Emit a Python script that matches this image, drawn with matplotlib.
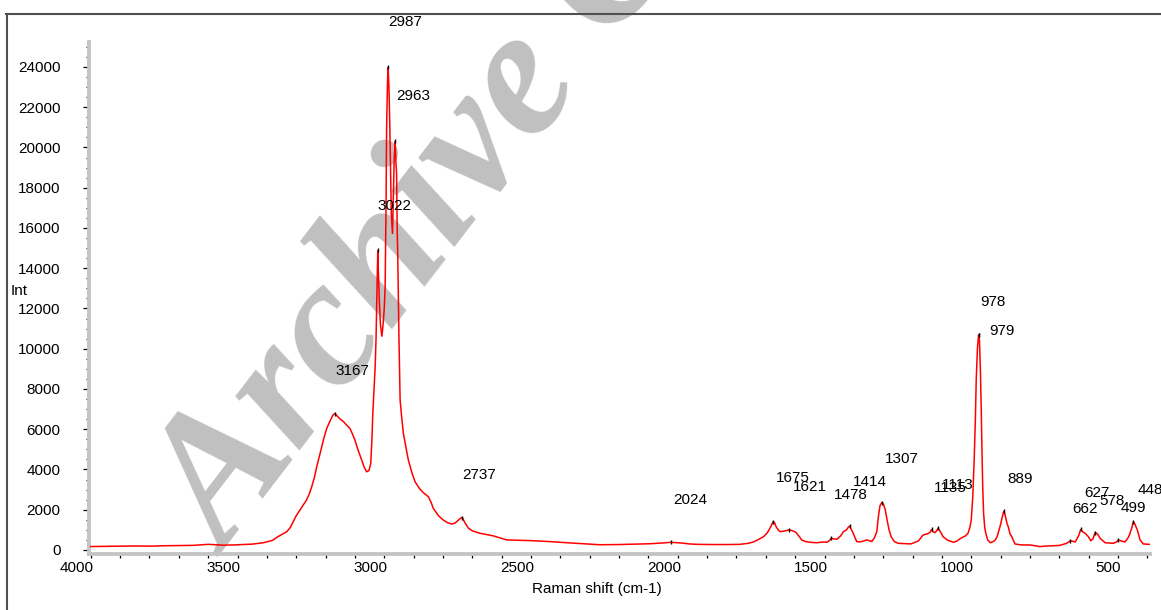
import numpy as np
import matplotlib
matplotlib.use('Agg')
import matplotlib.pyplot as plt
from matplotlib.ticker import MultipleLocator
from matplotlib.transforms import blended_transform_factory, ScaledTranslation
from matplotlib.lines import Line2D

plt.rcParams['font.family'] = ['Liberation Sans', 'DejaVu Sans']

# ---------------- data ----------------
wavenumber = [
    4000, 3950, 3900, 3850, 3800, 3750, 3700, 3650, 3600, 3550, 3515, 3450, 3412, 3380,
    3366, 3350, 3332, 3320, 3310, 3300, 3287, 3275, 3265, 3255, 3247, 3238, 3230, 3222,
    3213, 3205, 3196, 3185, 3175, 3168, 3160, 3150, 3139, 3128, 3117, 3108, 3100, 3090,
    3077, 3068, 3060, 3052, 3046, 3042, 3039, 3035, 3031, 3028, 3026, 3024, 3022, 3020,
    3017, 3013, 3008, 3004, 3000, 2997, 2994, 2992, 2989, 2987, 2984, 2981, 2979, 2976,
    2972, 2969, 2966, 2963, 2960, 2958, 2956, 2954, 2952, 2950, 2948, 2946, 2940, 2935,
    2926, 2918, 2905, 2895, 2880, 2867, 2850, 2840, 2833, 2815, 2799, 2785, 2770, 2760,
    2753, 2740, 2734, 2725, 2713, 2700, 2674, 2650, 2628, 2605, 2583, 2540, 2493, 2440,
    2378, 2320, 2265, 2200, 2150, 2094, 2050, 2024, 1990, 1960, 1935, 1880, 1830, 1788,
    1760, 1742, 1725, 1708, 1695, 1686, 1680, 1675, 1670, 1665, 1658, 1651, 1640, 1630,
    1621, 1610, 1600, 1595, 1585, 1578, 1565, 1549, 1526, 1503, 1492, 1482, 1478, 1470,
    1458, 1445, 1436, 1425, 1418, 1414, 1408, 1402, 1396, 1390, 1380, 1368, 1356, 1345,
    1339, 1330, 1322, 1316, 1311, 1305, 1300, 1293, 1287, 1280, 1273, 1262, 1249, 1206,
    1180, 1164, 1150, 1140, 1135, 1130, 1124, 1118, 1113, 1105, 1096, 1080, 1060, 1048,
    1036, 1020, 1011, 1004, 1000, 995, 990, 986, 983, 979, 975, 972, 969, 966, 964, 961,
    958, 954, 950, 944, 935, 925, 918, 912, 902, 895, 889, 884, 878, 874, 868, 862, 851,
    830, 800, 766, 740, 720, 698, 675, 662, 652, 646, 640, 633, 627, 620, 612, 601, 593,
    585, 582, 578, 570, 561, 544, 516, 505, 499, 490, 476, 466, 461, 453, 448, 443, 440,
    434, 425, 414, 393,
]
intensity = [
    170, 180, 190, 200, 190, 210, 220, 230, 280, 240, 250, 290, 360, 480,
    630, 760, 910, 1120, 1410, 1700, 1990, 2250, 2480, 2800, 3150, 3600, 4140, 4600,
    5130, 5600, 6040, 6400, 6700, 6780, 6650, 6500, 6380, 6200, 6040, 5750, 5460, 5000,
    4470, 4100, 3890, 3950, 4300, 5500, 6790, 8000, 9100, 10500, 12100, 13500, 14900, 13800,
    12500, 11200, 10600, 11200, 12000, 13100, 17000, 21000, 23200, 24000, 23000, 21000, 19400, 16700,
    15700, 17500, 19500, 20300, 19200, 18700, 16000, 14600, 12400, 10600, 9000, 7450, 6500, 5800,
    5100, 4470, 3800, 3390, 3050, 2850, 2650, 2350, 2070, 1700, 1490, 1360, 1290, 1330,
    1410, 1580, 1610, 1350, 1080, 950, 830, 760, 700, 600, 500, 480, 460, 420,
    360, 310, 260, 270, 290, 310, 350, 380, 350, 300, 280, 270, 270, 280,
    330, 400, 520, 660, 850, 1080, 1250, 1410, 1350, 1160, 1000, 910, 930, 960,
    1000, 960, 900, 830, 650, 500, 420, 380, 360, 400, 380, 480, 580, 560,
    530, 700, 910, 1000, 1150, 1190, 1000, 830, 600, 420, 400, 440, 500, 450,
    420, 600, 900, 1700, 2200, 2350, 2300, 2000, 1500, 1000, 660, 420, 330, 300,
    450, 745, 800, 880, 1030, 900, 860, 950, 1090, 900, 660, 480, 380, 450,
    580, 700, 830, 1160, 1500, 2600, 4500, 6500, 8500, 10000, 10700, 10400, 9000, 7000, 5300, 3150,
    1830, 1100, 800, 500, 360, 420, 500, 660, 1160, 1600, 1940, 1700, 1300, 1160, 800, 660, 300,
    250, 250, 170, 200, 210, 230, 330, 460, 420, 400, 550, 745, 1030, 900, 830, 660, 460,
    550, 700, 860, 800, 580, 360, 330, 400, 500, 450, 400, 600, 745, 1100, 1410, 1300, 1200,
    990, 500, 300, 280,
]

peak_labels = ['2987', '2963', '3022', '3167', '2737', '2024', '1675', '1621', '1478',
               '1414', '1307', '1135', '1113', '978', '979', '889', '662', '627', '578',
               '499', '448']
label_x = [2987, 2960, 3024, 3167, 2735, 2016, 1665, 1607, 1467, 1404, 1295, 1127, 1100,
           968, 938, 877, 655, 615, 564, 491, 434]
label_y = [26230, 22550, 17090, 8890, 3725, 2480, 3560, 3110, 2730, 3390, 4520, 3095, 3230,
           12320, 10880, 3530, 2020, 2820, 2450, 2070, 2980]

xtick_values = [4000, 3500, 3000, 2500, 2000, 1500, 1000, 500]
ytick_values = list(range(0, 24001, 2000))

x_title = 'Raman shift (cm-1)'
y_title = 'Int'
watermark = 'Archive Copy'

# ---------------- figure ----------------
W, H = 1161, 610
fig = plt.figure(figsize=(W / 100, H / 100), dpi=100)
fig.patch.set_facecolor('white')
ax = fig.add_axes([89 / W, 1 - 554 / H, (1150 - 89) / W, (554 - 42) / H])
ax.set_facecolor('none')

# watermark behind the spectrum
ax.text(228 / W, 1 - 557 / H, watermark, transform=fig.transFigure, rotation=52.5,
        rotation_mode='anchor', ha='left', va='baseline', fontsize=132,
        family=['Liberation Serif', 'DejaVu Serif'], weight='bold', style='italic',
        color='#c0c0c0', zorder=1, clip_on=False)

wn = np.array(wavenumber, dtype=float)
it = np.array(intensity, dtype=float)
ax.plot(wn, it, color='#ff0000', lw=1.1, zorder=3, solid_joinstyle='miter')

# peak tip markers and labels
for lbl, lx, ly in zip(peak_labels, label_x, label_y):
    n = float(lbl)
    m = (wn >= n - 10) & (wn <= n + 10)
    if m.any():
        k = np.argmax(np.where(m, it, -1))
        ax.plot([wn[k]], [it[k]], marker='|', ms=3.5, mew=1.0, color='black', zorder=4)
    ax.text(lx, ly, lbl, ha='left', va='center', fontsize=11, color='black',
            zorder=5, clip_on=False)

ax.set_xlim(4006, 391)
ax.set_ylim(-200, 25240)

for s in ['top', 'right']:
    ax.spines[s].set_visible(False)
for s in ['left', 'bottom']:
    ax.spines[s].set_color('#c4c4c4')
    ax.spines[s].set_linewidth(2.8)
    ax.spines[s].set_zorder(2)

ax.set_yticks(ytick_values)
ax.yaxis.set_minor_locator(MultipleLocator(500))
ax.tick_params(axis='y', which='major', direction='out', length=4.0, width=0.9,
               color='black', pad=16.5, labelsize=11)
ax.tick_params(axis='y', which='minor', direction='out', length=2.4, width=0.9, color='black')

ax.set_xticks(xtick_values)
ax.xaxis.set_minor_locator(MultipleLocator(100))
ax.tick_params(axis='x', which='both', direction='out', length=2.6, width=0.9,
               color='black', labelbottom=False)

# x tick labels: right-aligned just past each tick (as in the reference)
trans = blended_transform_factory(ax.transData, ax.transAxes) + \
    ScaledTranslation(3 / 100, -7 / 100, fig.dpi_scale_trans)
for v in xtick_values:
    ax.text(v, 0, str(v), transform=trans, ha='right', va='top', fontsize=11,
            clip_on=False)

fig.text(11 / W, 1 - 291 / H, y_title, ha='left', va='center', fontsize=11)
fig.text(597 / W, 1 - 588.5 / H, x_title, ha='center', va='center', fontsize=11)

# outer frame (only its top and left edges are inside the picture)
fig.add_artist(Line2D([6.5 / W, 6.5 / W], [1 - 14 / H, 0], transform=fig.transFigure,
                      color='#505050', lw=1.5))
fig.add_artist(Line2D([6 / W, 1.0], [1 - 14 / H, 1 - 14 / H], transform=fig.transFigure,
                      color='#505050', lw=1.5))

fig.savefig('out.png', dpi=100, facecolor='white')
